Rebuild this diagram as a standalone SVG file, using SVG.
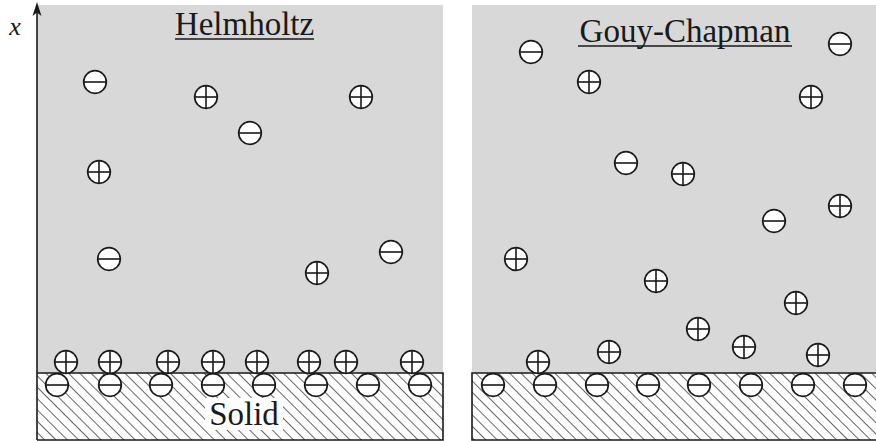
<svg xmlns="http://www.w3.org/2000/svg" xmlns:xlink="http://www.w3.org/1999/xlink" width="876" height="441" viewBox="0 0 876 441">
<style>
.bg{fill:#d8d8d8}
.border{stroke:#1a1a1a;stroke-width:1.6;fill:none}
.title{font-family:"Liberation Serif","Times New Roman",serif;font-size:33px;fill:#1a1a1a;text-anchor:middle}
.ul{stroke:#1a1a1a;stroke-width:1.6}
.ion{fill:#ffffff;stroke:#1a1a1a;stroke-width:1.7}
.sign{stroke:#1a1a1a;stroke-width:1.6}
</style>
<defs>
<pattern id="hatch" patternUnits="userSpaceOnUse" width="8" height="8" patternTransform="rotate(-45)">
<rect width="8" height="8" fill="#ffffff"/>
<line x1="0" y1="0" x2="0" y2="8" stroke="#262626" stroke-width="1.4"/>
</pattern>
<g id="minus"><circle class="ion" r="11.3"/><line class="sign" x1="-11.3" y1="0" x2="11.3" y2="0"/></g>
<g id="plus"><circle class="ion" r="11.3"/><line class="sign" x1="-11.3" y1="0" x2="11.3" y2="0"/><line class="sign" x1="0" y1="-11.3" x2="0" y2="11.3"/></g>
</defs>

<g id="helmholtz-panel">
<rect class="bg" x="37" y="5" width="406" height="368"/>
<rect x="37" y="373" width="406" height="67" fill="url(#hatch)"/>
<path class="border" d="M37,373 H443 V440 H37"/>
<rect x="205" y="398" width="78" height="32" fill="#ffffff"/>
<text class="title" x="244" y="425">Solid</text>
<text class="title" x="244.5" y="35">Helmholtz</text>
<line class="ul" x1="175" y1="39" x2="314" y2="39"/>
</g>

<g id="gouy-chapman-panel">
<rect class="bg" x="472" y="5" width="404" height="368"/>
<rect x="472" y="373" width="404" height="67" fill="url(#hatch)"/>
<path class="border" d="M876,373 H472 V440 H876"/>
<text class="title" x="685" y="42">Gouy-Chapman</text>
<line class="ul" x1="578" y1="46" x2="792" y2="46"/>
</g>

<g id="axis">
<line x1="37" y1="440" x2="37" y2="10" stroke="#1a1a1a" stroke-width="1.6"/>
<path d="M37,2 L32.5,16 L37,12.5 L41.5,16 Z" fill="#1a1a1a"/>
<text x="15" y="35" font-family="Liberation Serif, serif" font-style="italic" font-size="26" fill="#1a1a1a" text-anchor="middle">x</text>
</g>

<g id="helmholtz-ions">
<g id="h1"><use xlink:href="#minus" x="95" y="82"/></g>
<g id="h2"><use xlink:href="#plus" x="206" y="97"/></g>
<g id="h3"><use xlink:href="#plus" x="361" y="97"/></g>
<g id="h4"><use xlink:href="#minus" x="250" y="133"/></g>
<g id="h5"><use xlink:href="#plus" x="99" y="172"/></g>
<g id="h6"><use xlink:href="#minus" x="109" y="259"/></g>
<g id="h7"><use xlink:href="#plus" x="317" y="273"/></g>
<g id="h8"><use xlink:href="#minus" x="391" y="252"/></g>
<g id="hs-minus">
<use xlink:href="#minus" x="57" y="385"/>
<use xlink:href="#minus" x="110" y="385"/>
<use xlink:href="#minus" x="161" y="385"/>
<use xlink:href="#minus" x="213" y="385"/>
<use xlink:href="#minus" x="264" y="385"/>
<use xlink:href="#minus" x="316" y="385"/>
<use xlink:href="#minus" x="368" y="385"/>
<use xlink:href="#minus" x="420" y="385"/>
</g>
<g id="hs-plus">
<use xlink:href="#plus" x="66" y="362"/>
<use xlink:href="#plus" x="110" y="362"/>
<use xlink:href="#plus" x="168" y="362"/>
<use xlink:href="#plus" x="213" y="362"/>
<use xlink:href="#plus" x="257" y="362"/>
<use xlink:href="#plus" x="309" y="362"/>
<use xlink:href="#plus" x="346" y="362"/>
<use xlink:href="#plus" x="412" y="362"/>
</g>
</g>

<g id="gouy-ions">
<g id="g1"><use xlink:href="#minus" x="531" y="52"/></g>
<g id="g2"><use xlink:href="#plus" x="589" y="82"/></g>
<g id="g3"><use xlink:href="#minus" x="840" y="44"/></g>
<g id="g4"><use xlink:href="#plus" x="811" y="97"/></g>
<g id="g5"><use xlink:href="#minus" x="626" y="163"/></g>
<g id="g6"><use xlink:href="#plus" x="683" y="174"/></g>
<g id="g7"><use xlink:href="#plus" x="840" y="206"/></g>
<g id="g8"><use xlink:href="#minus" x="774" y="221"/></g>
<g id="g9"><use xlink:href="#plus" x="516" y="259"/></g>
<g id="g10"><use xlink:href="#plus" x="656" y="281"/></g>
<g id="g11"><use xlink:href="#plus" x="796" y="303"/></g>
<g id="g12"><use xlink:href="#plus" x="698" y="329"/></g>
<g id="g13"><use xlink:href="#plus" x="744" y="347"/></g>
<g id="g14"><use xlink:href="#plus" x="818" y="355"/></g>
<g id="g15"><use xlink:href="#plus" x="609" y="352"/></g>
<g id="g16"><use xlink:href="#plus" x="538" y="362"/></g>
<g id="gs-minus">
<use xlink:href="#minus" x="493" y="385"/>
<use xlink:href="#minus" x="545" y="385"/>
<use xlink:href="#minus" x="597" y="385"/>
<use xlink:href="#minus" x="648" y="385"/>
<use xlink:href="#minus" x="699" y="385"/>
<use xlink:href="#minus" x="751" y="385"/>
<use xlink:href="#minus" x="803" y="385"/>
<use xlink:href="#minus" x="855" y="385"/>
</g>
</g>
</svg>
